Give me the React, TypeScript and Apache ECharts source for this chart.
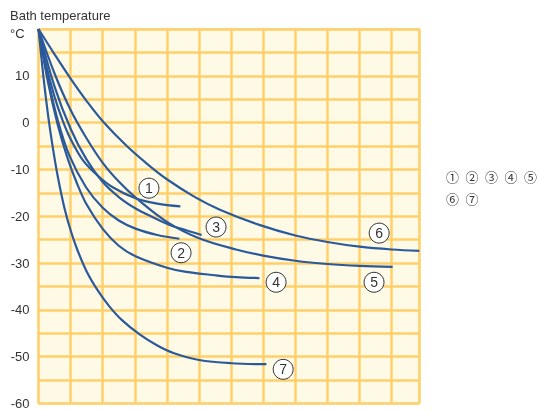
import React, { useEffect, useRef } from "react";
import * as echarts from "echarts";

// ---- data (x in grid columns, y in °C) ----
const seriesNames = ["①", "②", "③", "④", "⑤", "⑥", "⑦"];
const curveDigits = ["1", "2", "3", "4", "5", "6", "7"];

const curve1: number[][] = [
  [0, 20], [0.25, 12], [0.5, 5.5], [0.75, 0.5], [1.0, -3.5], [1.38, -8], [1.84, -11.3],
  [2.31, -13.8], [3.04, -16.2], [3.7, -17.3], [4.42, -17.9],
];
const curve2: number[][] = [
  [0, 20], [0.3, 9.2], [0.6, 0.5], [0.96, -7], [1.48, -13.8], [2.0, -18.2], [2.5, -20.9],
  [3.04, -22.7], [3.7, -24.0], [4.39, -24.8],
];
const curve3: number[][] = [
  [0, 20], [0.5, 7.7], [1.0, -1.3], [1.48, -7.7], [2.0, -12.7], [2.52, -16], [3.04, -18.4],
  [3.5, -20], [4.07, -21.8], [4.6, -23], [5.08, -24],
];
const curve4: number[][] = [
  [0, 20], [0.3, 8.5], [0.6, -0.5], [0.91, -7.7], [1.2, -13], [1.5, -17.5], [2.0, -22.7],
  [2.5, -26.3], [3.04, -28.6], [4.0, -31], [4.6, -31.9], [5.5, -32.6], [6.15, -33], [6.88, -33.2],
];
const curve5: number[][] = [
  [0, 20], [0.5, 10.5], [1.0, 2.7], [1.5, -3.4], [2.0, -8.6], [2.5, -12.6], [3.04, -16.1],
  [4.0, -21.2], [5.0, -24.7], [6.15, -27.1], [7.0, -28.4], [8.0, -29.5], [9.0, -30.2],
  [10.0, -30.6], [11.03, -30.8],
];
const curve6: number[][] = [
  [0, 20], [0.5, 14.6], [1.0, 9.4], [1.5, 4.6], [2.0, 0.3], [2.75, -5.0], [3.4, -8.9],
  [4.0, -12.1], [4.82, -15.7], [5.65, -18.6], [6.9, -21.9], [8.0, -24.1], [9.0, -25.5],
  [10.0, -26.5], [11.0, -27.1], [11.86, -27.4],
];
const curve7: number[][] = [
  [0, 20], [0.15, 10], [0.3, 1.5], [0.45, -5.5], [0.6, -11.5], [0.8, -18], [1.0, -23],
  [1.2, -27], [1.5, -31.8], [1.84, -35.8], [2.2, -39.2], [2.6, -42.2], [3.16, -45.3],
  [3.7, -47.6], [4.2, -49.2], [5.0, -50.7], [6.0, -51.4], [7.1, -51.6],
];
const curves = [curve1, curve2, curve3, curve4, curve5, curve6, curve7];

// circled-number annotations (data coordinates)
const annotationPos: number[][] = [
  [3.44, -14.0], [4.44, -27.8], [5.53, -22.3], [7.4, -34.1], [10.45, -34.1], [10.61, -23.6], [7.62, -52.7],
];

const yMin = -60;
const yMax = 20;
const yStep = 5;
const xMin = 0;
const xMax = 11.86;
const xStep = 1;

const FONT = "'Liberation Sans', Arial, sans-serif";
const CJK = "'Noto Sans CJK JP', sans-serif";

export default function App() {
  const ref = useRef<HTMLDivElement>(null);

  useEffect(() => {
    if (!ref.current) return;
    const chart = echarts.init(ref.current, undefined, { renderer: "svg" });
    const lineColor = "#2B5A9B";
    const legendBase = {
      left: 441,
      width: 99,
      padding: 0,
      icon: "none",
      itemWidth: 0,
      itemHeight: 14,
      itemGap: 1.5,
      textStyle: { color: "#333", fontSize: 13, fontFamily: CJK },
      selectedMode: false,
    };
    const option: any = {
      animation: false,
      textStyle: { fontFamily: FONT },
      grid: {
        left: 38.5,
        top: 29,
        right: 120.7,
        bottom: 3,
        show: true,
        backgroundColor: "#FFFAE6",
        borderColor: "#FFD98C",
        borderWidth: 1.5,
      },
      legend: [
        { ...legendBase, data: seriesNames.slice(0, 5), top: 169 },
        { ...legendBase, data: seriesNames.slice(5), top: 191 },
      ],
      xAxis: {
        type: "value",
        min: xMin,
        max: xMax,
        interval: xStep,
        axisLine: { show: false },
        axisTick: { show: false },
        axisLabel: { show: false },
        splitLine: { show: true, lineStyle: { color: "#FFCF6A", width: 2.5 } },
      },
      yAxis: {
        type: "value",
        min: yMin,
        max: yMax,
        interval: yStep,
        axisLine: { show: false },
        axisTick: { show: false },
        axisLabel: {
          color: "#333",
          fontSize: 13,
          margin: 9,
          fontFamily: FONT,
          padding: [0, 0, 4, 0],
          formatter: (v: number) => (v % 10 === 0 && v < yMax ? String(v) : ""),
        },
        splitLine: { show: true, lineStyle: { color: "#FFCF6A", width: 2.5 } },
      },
      graphic: [
        {
          type: "text",
          left: 10,
          top: 9,
          style: { text: "Bath temperature", fontSize: 13, fill: "#333", fontFamily: FONT },
        },
        {
          type: "text",
          left: 10,
          top: 27,
          style: { text: "°C", fontSize: 13, fill: "#333", fontFamily: FONT },
        },
      ],
      series: curves.map((c, i) => ({
        name: seriesNames[i],
        type: "line",
        data: c,
        showSymbol: false,
        smooth: 0.35,
        color: lineColor,
        lineStyle: { color: lineColor, width: 2.2 },
        z: 3,
        markPoint: {
          symbol: "circle",
          symbolSize: 20,
          itemStyle: { color: "#fff", borderColor: "#333", borderWidth: 1 },
          label: {
            show: true,
            formatter: curveDigits[i],
            color: "#333",
            fontSize: 14,
            fontFamily: FONT,
          },
          data: [{ coord: annotationPos[i] }],
        },
      })),
    };
    chart.setOption(option);
    return () => chart.dispose();
  }, []);

  return (
    <div
      ref={ref}
      style={{ position: "fixed", left: 0, top: 0, width: 540, height: 410 }}
    />
  );
}
